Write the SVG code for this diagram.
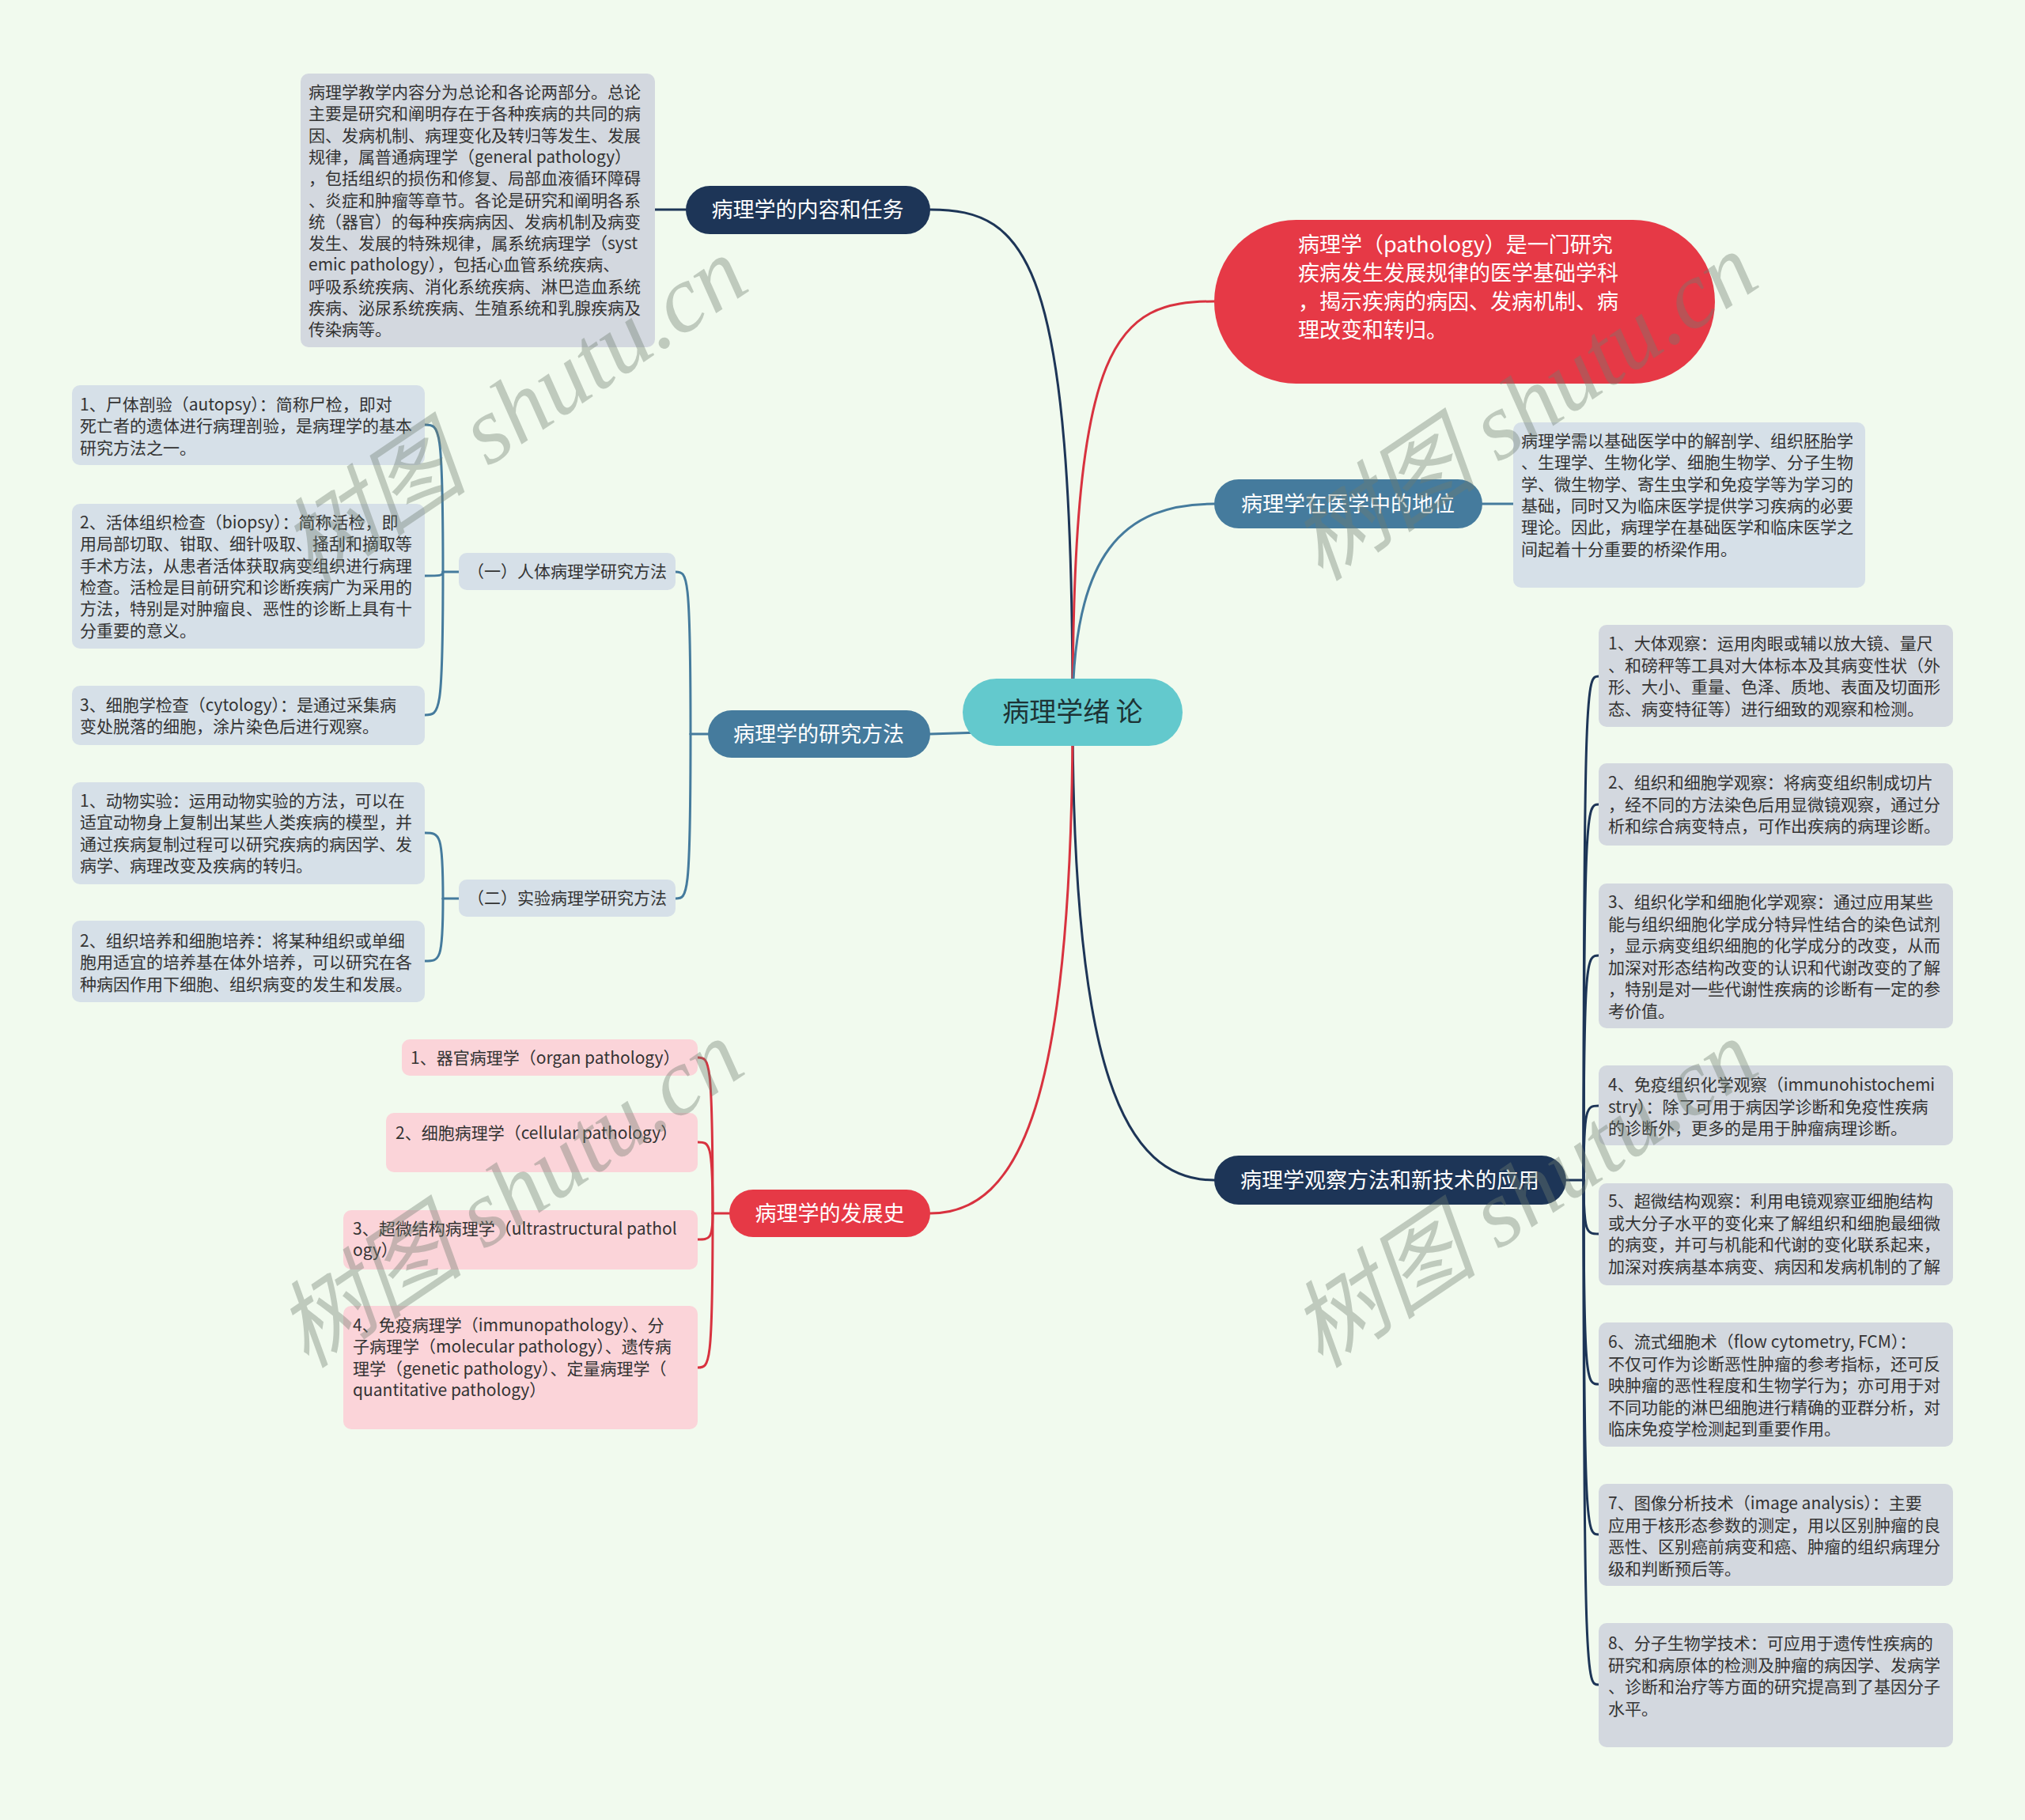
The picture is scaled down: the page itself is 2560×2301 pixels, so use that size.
<svg xmlns="http://www.w3.org/2000/svg" width="2560" height="2301" viewBox="0 0 2560 2301">
<style>
text{font-family:"Noto Sans CJK SC","Noto Sans",sans-serif}
.navy{fill:#1d3557}
.blue{fill:#457b9d}
.red{fill:#e63946}
.center{fill:#63c9cd}
.lg{fill:#d3d8df}
.lb{fill:#d6e0e8}
.lp{fill:#fbd4d9}
.tm{font-size:27px;fill:#ffffff}
.tl{font-size:21px;fill:#333333}
.c{fill:none;stroke-width:3;stroke-linecap:round}
.cn{stroke:#1d3557}
.cb{stroke:#457b9d}
.cr{stroke:#d8323f}
.wm{font-family:"Liberation Serif","Noto Sans CJK SC",serif;font-style:italic;font-size:120px;fill:#6f7d70;opacity:0.38}
</style>
<rect x="0" y="0" width="2560" height="2301" fill="#f1faee"/>
<g id="connectors">
<path class="c cn" d="M1356,900 C1356,330 1300,265 1176,265"/>
<path class="c cr" d="M1356,900 C1356,430 1410,381 1535,381"/>
<path class="c cb" d="M1356,900 C1356,700 1420,637 1535,637"/>
<path class="c cn" d="M1356,900 C1356,1350 1420,1492 1535,1492"/>
<path class="c cr" d="M1356,900 C1356,1390 1290,1534 1176,1534"/>
<path class="c cb" d="M1240,926 L1176,928"/>
<path class="c cn" d="M867,265 L828,265"/>
<path class="c cb" d="M1874,637 L1913,637"/>
<path class="c cn" d="M1980,1492 L2002,1492"/>
<path class="c cn" d="M2002,1492 C2002,855 2006,855 2021,855"/>
<path class="c cn" d="M2002,1492 C2002,1017 2006,1017 2021,1017"/>
<path class="c cn" d="M2002,1492 C2002,1208 2006,1208 2021,1208"/>
<path class="c cn" d="M2002,1492 C2002,1398 2006,1398 2021,1398"/>
<path class="c cn" d="M2002,1492 C2002,1560 2006,1560 2021,1560"/>
<path class="c cn" d="M2002,1492 C2002,1750 2006,1750 2021,1750"/>
<path class="c cn" d="M2002,1492 C2002,1940 2006,1940 2021,1940"/>
<path class="c cn" d="M2002,1492 C2002,2130 2006,2130 2021,2130"/>
<path class="c cb" d="M895,928 L873,928"/>
<path class="c cb" d="M873,928 C873,723 869,723 854,723"/>
<path class="c cb" d="M873,928 C873,1136 869,1136 854,1136"/>
<path class="c cb" d="M580,723 L560,723"/>
<path class="c cb" d="M560,723 C560,537 556,537 537,537"/>
<path class="c cb" d="M560,723 C560,728 556,728 537,728"/>
<path class="c cb" d="M560,723 C560,904 556,904 537,904"/>
<path class="c cb" d="M580,1136 L560,1136"/>
<path class="c cb" d="M560,1136 C560,1053 556,1053 537,1053"/>
<path class="c cb" d="M560,1136 C560,1215 556,1215 537,1215"/>
<path class="c cr" d="M922,1534 L901,1534"/>
<path class="c cr" d="M901,1534 C901,1337 897,1337 882,1337"/>
<path class="c cr" d="M901,1534 C901,1444 897,1444 882,1444"/>
<path class="c cr" d="M901,1534 C901,1567 897,1567 882,1567"/>
<path class="c cr" d="M901,1534 C901,1729 897,1729 882,1729"/>
</g>
<g id="root">
<rect class="center" x="1217" y="858" width="278" height="85" rx="42.5"/>
<text x="1356" y="912" text-anchor="middle" font-size="34" fill="#1d3335">病理学绪 论</text>
</g>
<g id="n-content">
<rect class="navy" x="867" y="235" width="309" height="61" rx="30.5"/>
<text class="tm" x="1021" y="275" text-anchor="middle">病理学的内容和任务</text>
</g>
<g id="n-content-text">
<rect class="lg" x="380" y="93" width="448" height="346" rx="10"/>
<text class="tl"><tspan x="390" y="124">病理学教学内容分为总论和各论两部分。总论</tspan><tspan x="390" dy="27.3">主要是研究和阐明存在于各种疾病的共同的病</tspan><tspan x="390" dy="27.3">因、发病机制、病理变化及转归等发生、发展</tspan><tspan x="390" dy="27.3">规律，属普通病理学（general pathology）</tspan><tspan x="390" dy="27.3">，包括组织的损伤和修复、局部血液循环障碍</tspan><tspan x="390" dy="27.3">、炎症和肿瘤等章节。各论是研究和阐明各系</tspan><tspan x="390" dy="27.3">统（器官）的每种疾病病因、发病机制及病变</tspan><tspan x="390" dy="27.3">发生、发展的特殊规律，属系统病理学（syst</tspan><tspan x="390" dy="27.3">emic pathology），包括心血管系统疾病、</tspan><tspan x="390" dy="27.3">呼吸系统疾病、消化系统疾病、淋巴造血系统</tspan><tspan x="390" dy="27.3">疾病、泌尿系统疾病、生殖系统和乳腺疾病及</tspan><tspan x="390" dy="27.3">传染病等。</tspan></text>
</g>
<g id="n-definition">
<rect class="red" x="1535" y="278" width="633" height="207" rx="103.5"/>
<text class="tm"><tspan x="1641" y="319">病理学（pathology）是一门研究</tspan><tspan x="1641" dy="36">疾病发生发展规律的医学基础学科</tspan><tspan x="1641" dy="36">，揭示疾病的病因、发病机制、病</tspan><tspan x="1641" dy="36">理改变和转归。</tspan></text>
</g>
<g id="n-status">
<rect class="blue" x="1535" y="606" width="339" height="62" rx="31"/>
<text class="tm" x="1704" y="647" text-anchor="middle">病理学在医学中的地位</text>
</g>
<g id="n-status-text">
<rect class="lb" x="1913" y="534" width="445" height="209" rx="10"/>
<text class="tl"><tspan x="1923" y="565">病理学需以基础医学中的解剖学、组织胚胎学</tspan><tspan x="1923" dy="27.3">、生理学、生物化学、细胞生物学、分子生物</tspan><tspan x="1923" dy="27.3">学、微生物学、寄生虫学和免疫学等为学习的</tspan><tspan x="1923" dy="27.3">基础，同时又为临床医学提供学习疾病的必要</tspan><tspan x="1923" dy="27.3">理论。因此，病理学在基础医学和临床医学之</tspan><tspan x="1923" dy="27.3">间起着十分重要的桥梁作用。</tspan></text>
</g>
<g id="n-observe">
<rect class="navy" x="1535" y="1461" width="445" height="62" rx="31"/>
<text class="tm" x="1757" y="1502" text-anchor="middle">病理学观察方法和新技术的应用</text>
</g>
<g id="n-obs-1">
<rect class="lg" x="2021" y="790" width="448" height="129" rx="10"/>
<text class="tl"><tspan x="2033" y="821">1、大体观察：运用肉眼或辅以放大镜、量尺</tspan><tspan x="2033" dy="27.5">、和磅秤等工具对大体标本及其病变性状（外</tspan><tspan x="2033" dy="27.5">形、大小、重量、色泽、质地、表面及切面形</tspan><tspan x="2033" dy="27.5">态、病变特征等）进行细致的观察和检测。</tspan></text>
</g>
<g id="n-obs-2">
<rect class="lg" x="2021" y="965" width="448" height="104" rx="10"/>
<text class="tl"><tspan x="2033" y="997">2、组织和细胞学观察：将病变组织制成切片</tspan><tspan x="2033" dy="27.5">，经不同的方法染色后用显微镜观察，通过分</tspan><tspan x="2033" dy="27.5">析和综合病变特点，可作出疾病的病理诊断。</tspan></text>
</g>
<g id="n-obs-3">
<rect class="lg" x="2021" y="1117" width="448" height="183" rx="10"/>
<text class="tl"><tspan x="2033" y="1148">3、组织化学和细胞化学观察：通过应用某些</tspan><tspan x="2033" dy="27.5">能与组织细胞化学成分特异性结合的染色试剂</tspan><tspan x="2033" dy="27.5">，显示病变组织细胞的化学成分的改变，从而</tspan><tspan x="2033" dy="27.5">加深对形态结构改变的认识和代谢改变的了解</tspan><tspan x="2033" dy="27.5">，特别是对一些代谢性疾病的诊断有一定的参</tspan><tspan x="2033" dy="27.5">考价值。</tspan></text>
</g>
<g id="n-obs-4">
<rect class="lg" x="2021" y="1347" width="448" height="101" rx="10"/>
<text class="tl"><tspan x="2033" y="1379">4、免疫组织化学观察（immunohistochemi</tspan><tspan x="2033" dy="27.5">stry）：除了可用于病因学诊断和免疫性疾病</tspan><tspan x="2033" dy="27.5">的诊断外，更多的是用于肿瘤病理诊断。</tspan></text>
</g>
<g id="n-obs-5">
<rect class="lg" x="2021" y="1496" width="448" height="129" rx="10"/>
<text class="tl"><tspan x="2033" y="1526">5、超微结构观察：利用电镜观察亚细胞结构</tspan><tspan x="2033" dy="27.5">或大分子水平的变化来了解组织和细胞最细微</tspan><tspan x="2033" dy="27.5">的病变，并可与机能和代谢的变化联系起来，</tspan><tspan x="2033" dy="27.5">加深对疾病基本病变、病因和发病机制的了解</tspan></text>
</g>
<g id="n-obs-6">
<rect class="lg" x="2021" y="1672" width="448" height="157" rx="10"/>
<text class="tl"><tspan x="2033" y="1704">6、流式细胞术（flow cytometry, FCM）：</tspan><tspan x="2033" dy="27.5">不仅可作为诊断恶性肿瘤的参考指标，还可反</tspan><tspan x="2033" dy="27.5">映肿瘤的恶性程度和生物学行为；亦可用于对</tspan><tspan x="2033" dy="27.5">不同功能的淋巴细胞进行精确的亚群分析，对</tspan><tspan x="2033" dy="27.5">临床免疫学检测起到重要作用。</tspan></text>
</g>
<g id="n-obs-7">
<rect class="lg" x="2021" y="1876" width="448" height="129" rx="10"/>
<text class="tl"><tspan x="2033" y="1908">7、图像分析技术（image analysis）：主要</tspan><tspan x="2033" dy="27.5">应用于核形态参数的测定，用以区别肿瘤的良</tspan><tspan x="2033" dy="27.5">恶性、区别癌前病变和癌、肿瘤的组织病理分</tspan><tspan x="2033" dy="27.5">级和判断预后等。</tspan></text>
</g>
<g id="n-obs-8">
<rect class="lg" x="2021" y="2052" width="448" height="157" rx="10"/>
<text class="tl"><tspan x="2033" y="2085">8、分子生物学技术：可应用于遗传性疾病的</tspan><tspan x="2033" dy="27.5">研究和病原体的检测及肿瘤的病因学、发病学</tspan><tspan x="2033" dy="27.5">、诊断和治疗等方面的研究提高到了基因分子</tspan><tspan x="2033" dy="27.5">水平。</tspan></text>
</g>
<g id="n-method">
<rect class="blue" x="895" y="898" width="281" height="60" rx="30"/>
<text class="tm" x="1035" y="938" text-anchor="middle">病理学的研究方法</text>
</g>
<g id="n-method-human">
<rect class="lb" x="580" y="699" width="274" height="47" rx="10"/>
<text class="tl" x="717" y="730" text-anchor="middle">（一）人体病理学研究方法</text>
</g>
<g id="n-method-exp">
<rect class="lb" x="580" y="1112" width="274" height="47" rx="10"/>
<text class="tl" x="717" y="1143" text-anchor="middle">（二）实验病理学研究方法</text>
</g>
<g id="n-human-1">
<rect class="lb" x="91" y="487" width="446" height="101" rx="10"/>
<text class="tl"><tspan x="101" y="519">1、尸体剖验（autopsy）：简称尸检，即对</tspan><tspan x="101" dy="27.3">死亡者的遗体进行病理剖验，是病理学的基本</tspan><tspan x="101" dy="27.3">研究方法之一。</tspan></text>
</g>
<g id="n-human-2">
<rect class="lb" x="91" y="637" width="446" height="183" rx="10"/>
<text class="tl"><tspan x="101" y="668">2、活体组织检查（biopsy）：简称活检，即</tspan><tspan x="101" dy="27.3">用局部切取、钳取、细针吸取、搔刮和摘取等</tspan><tspan x="101" dy="27.3">手术方法，从患者活体获取病变组织进行病理</tspan><tspan x="101" dy="27.3">检查。活检是目前研究和诊断疾病广为采用的</tspan><tspan x="101" dy="27.3">方法，特别是对肿瘤良、恶性的诊断上具有十</tspan><tspan x="101" dy="27.3">分重要的意义。</tspan></text>
</g>
<g id="n-human-3">
<rect class="lb" x="91" y="867" width="446" height="75" rx="10"/>
<text class="tl"><tspan x="101" y="899">3、细胞学检查（cytology）：是通过采集病</tspan><tspan x="101" dy="27.3">变处脱落的细胞，涂片染色后进行观察。</tspan></text>
</g>
<g id="n-exp-1">
<rect class="lb" x="91" y="989" width="446" height="129" rx="10"/>
<text class="tl"><tspan x="101" y="1020">1、动物实验：运用动物实验的方法，可以在</tspan><tspan x="101" dy="27.3">适宜动物身上复制出某些人类疾病的模型，并</tspan><tspan x="101" dy="27.3">通过疾病复制过程可以研究疾病的病因学、发</tspan><tspan x="101" dy="27.3">病学、病理改变及疾病的转归。</tspan></text>
</g>
<g id="n-exp-2">
<rect class="lb" x="91" y="1164" width="446" height="103" rx="10"/>
<text class="tl"><tspan x="101" y="1197">2、组织培养和细胞培养：将某种组织或单细</tspan><tspan x="101" dy="27.3">胞用适宜的培养基在体外培养，可以研究在各</tspan><tspan x="101" dy="27.3">种病因作用下细胞、组织病变的发生和发展。</tspan></text>
</g>
<g id="n-history">
<rect class="red" x="922" y="1504" width="254" height="60" rx="30"/>
<text class="tm" x="1049" y="1544" text-anchor="middle">病理学的发展史</text>
</g>
<g id="n-hist-1">
<rect class="lp" x="508" y="1314" width="374" height="46" rx="10"/>
<text class="tl" x="519" y="1345">1、器官病理学（organ pathology）</text>
</g>
<g id="n-hist-2">
<rect class="lp" x="488" y="1407" width="394" height="75" rx="10"/>
<text class="tl" x="500" y="1440">2、细胞病理学（cellular pathology）</text>
</g>
<g id="n-hist-3">
<rect class="lp" x="434" y="1530" width="448" height="75" rx="10"/>
<text class="tl"><tspan x="446" y="1561">3、超微结构病理学（ultrastructural pathol</tspan><tspan x="446" dy="27.3">ogy）</tspan></text>
</g>
<g id="n-hist-4">
<rect class="lp" x="434" y="1651" width="448" height="156" rx="10"/>
<text class="tl"><tspan x="446" y="1683">4、免疫病理学（immunopathology）、分</tspan><tspan x="446" dy="27.3">子病理学（molecular pathology）、遗传病</tspan><tspan x="446" dy="27.3">理学（genetic pathology）、定量病理学（</tspan><tspan x="446" dy="27.3">quantitative pathology）</tspan></text>
</g>
<g id="watermarks">
<text class="wm" x="650" y="560" text-anchor="middle" transform="rotate(-34 650 520)">树图 shutu.cn</text>
<text class="wm" x="1927" y="555" text-anchor="middle" transform="rotate(-34 1927 515)">树图 shutu.cn</text>
<text class="wm" x="645" y="1550" text-anchor="middle" transform="rotate(-34 645 1510)">树图 shutu.cn</text>
<text class="wm" x="1927" y="1550" text-anchor="middle" transform="rotate(-34 1927 1510)">树图 shutu.cn</text>
</g>
</svg>
